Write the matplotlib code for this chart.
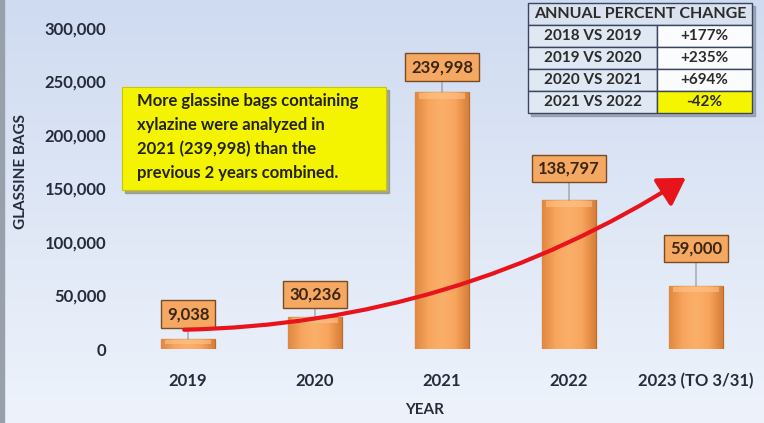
import numpy as np
import matplotlib.pyplot as plt
from matplotlib.patches import FancyArrowPatch, Rectangle
from matplotlib.colors import LinearSegmentedColormap

plt.rcParams['font.family'] = ['Lato', 'DejaVu Sans']
plt.rcParams['font.weight'] = 'bold'

# data
years = ['2019', '2020', '2021', '2022', '2023 (TO 3/31)']
bags = [9038, 30236, 239998, 138797, 59000]
y_ticks = [0, 50000, 100000, 150000, 200000, 250000, 300000]

change_periods = ['2018 VS 2019', '2019 VS 2020', '2020 VS 2021', '2021 VS 2022']
change_pct = ['+177%', '+235%', '+694%', '-42%']

note = ('More glassine bags containing\nxylazine were analyzed in\n'
        '2021 (239,998) than the\nprevious 2 years combined.')

# how far each value box sits above its bar (points)
label_lift = [18, 16, 18, 23, 27]

W, H = 764, 423
fig = plt.figure(figsize=(W / 100, H / 100), dpi=100)

# background gradient
bg = fig.add_axes([0, 0, 1, 1], zorder=-10)
bg_cmap = LinearSegmentedColormap.from_list('bg', ['#cfdbf1', '#eef3fb'])
bg.imshow(np.linspace(0, 1, 256).reshape(-1, 1), aspect='auto', cmap=bg_cmap,
          extent=[0, 1, 0, 1], origin='upper')
bg.add_patch(Rectangle((0, 0), 4 / W, 1, color='#98a1ab'))
bg.set_xlim(0, 1)
bg.set_ylim(0, 1)
bg.set_axis_off()

# main axes
ax = fig.add_axes([124.5 / W, 74 / H, 635 / W, 321 / H])
ax.patch.set_alpha(0)

x = np.arange(len(years))
bars = ax.bar(x, bags, width=0.42, color='#f8a55e', edgecolor='#b86c30',
              linewidth=0.9, zorder=2)
bar_cmap = LinearSegmentedColormap.from_list(
    'bar', ['#e08840', '#f8a55e', '#fab06a', '#f8a55e', '#d87e38'])
for b in bars:
    x0, w, h = b.get_x(), b.get_width(), b.get_height()
    im = ax.imshow(np.linspace(0, 1, 64).reshape(1, -1), cmap=bar_cmap,
                   aspect='auto', extent=[x0, x0 + w, 0, h], zorder=2.1)
    im.set_clip_path(b)
    bev = min(h * 0.5, 6000)
    top = Rectangle((x0 + w * 0.06, h - bev), w * 0.88, bev * 0.85,
                    color='#fdc48a', alpha=0.6, zorder=2.2, lw=0)
    ax.add_patch(top)
    top.set_clip_path(b)

for i, v in enumerate(bags):
    ax.annotate(f'{v:,}', xy=(i, v), xytext=(0, label_lift[i]),
                textcoords='offset points', ha='center', va='center',
                fontsize=12, color='#3b2614', zorder=4,
                bbox=dict(boxstyle='square,pad=0.35', fc='#f5a862',
                          ec='#7a4a22', lw=1),
                arrowprops=dict(arrowstyle='-', color='#909090', lw=0.8,
                                shrinkA=0, shrinkB=0))

arrow = FancyArrowPatch((-0.03, 18000), (3.92, 160000),
                        connectionstyle='arc3,rad=0.14',
                        arrowstyle='-|>,head_length=0.9,head_width=0.55',
                        mutation_scale=18, color='#e8141c', lw=3, zorder=5,
                        shrinkA=0, shrinkB=0)
ax.add_patch(arrow)

ax.set_xlim(-0.5, 4.5)
ax.set_ylim(0, 300000)
ax.set_xticks(x)
ax.set_xticklabels(years)
ax.set_yticks(y_ticks)
ax.set_yticklabels([f'{t:,}' for t in y_ticks])
ax.tick_params(length=0, labelsize=12, colors='#262b3a')
ax.tick_params(axis='y', pad=13)
ax.tick_params(axis='x', pad=17)
for s in ax.spines.values():
    s.set_visible(False)

fig.text(21 / W, 1 - 172 / H, 'GLASSINE BAGS', rotation=90, ha='center',
         va='center', fontsize=11, color='#262b3a')
fig.text(425 / W, 1 - 410 / H, 'YEAR', ha='center', va='center',
         fontsize=11, color='#262b3a')

# yellow note box
bg.add_patch(Rectangle((125 / W, 1 - 193 / H), 264 / W, 103 / H,
                       color='#8e8e70', alpha=0.7, zorder=6))
bg.add_patch(Rectangle((122 / W, 1 - 190 / H), 264 / W, 103 / H,
                       fc='#f4f400', ec='#c8c800', lw=0.8, zorder=7))
fig.text(137 / W, 1 - 93 / H, note, ha='left', va='top', fontsize=12,
         color='#222210', linespacing=1.6, zorder=8)

# change table
bg.add_patch(Rectangle((531 / W, 1 - 116 / H), 224 / W, 110 / H,
                       color='#7d8796', alpha=0.6, zorder=6))
tax = fig.add_axes([528 / W, 1 - 113 / H, 224 / W, 110 / H], zorder=7)
tax.set_axis_off()
head = tax.table(cellText=[['ANNUAL PERCENT CHANGE']], cellLoc='center',
                 bbox=[0, 0.8, 1, 0.2], cellColours=[['#d9e2ee']])
body = tax.table(cellText=[[p, c] for p, c in zip(change_periods, change_pct)],
                 cellLoc='center', bbox=[0, 0, 1, 0.8],
                 colWidths=[129 / 224, 95 / 224],
                 cellColours=[['#dfe8f3', '#fbfcfe']] * 3 + [['#dfe8f3', '#f5f500']])
for t, fs in ((head, 11.5), (body, 11)):
    t.auto_set_font_size(False)
    for cell in t.get_celld().values():
        cell.set_edgecolor('#3a4660')
        cell.set_linewidth(1)
        cell.get_text().set_fontsize(fs)
        cell.get_text().set_fontweight('bold')
        cell.get_text().set_color('#2b2b2b')

fig.savefig('out.png', dpi=100)
